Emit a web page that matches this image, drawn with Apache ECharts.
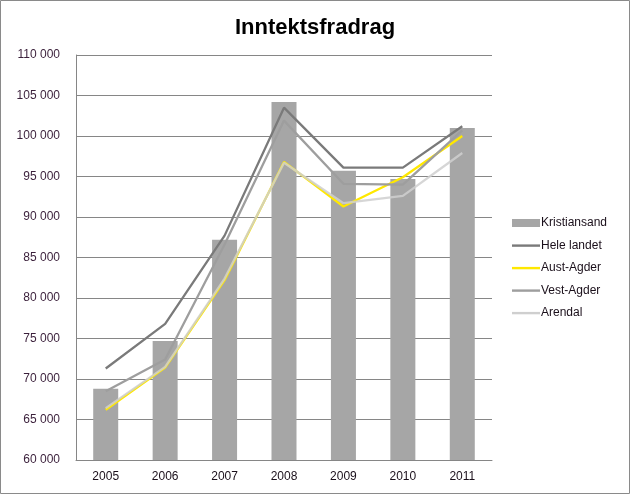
<!DOCTYPE html>
<html><head><meta charset="utf-8">
<script src="https://cdn.jsdelivr.net/npm/echarts@6/dist/echarts.min.js"></script>
<style>html,body{margin:0;padding:0;background:#fff}#c{width:630px;height:494px}</style>
</head><body><div id="c"></div>
<script>
const years = ['2005','2006','2007','2008','2009','2010','2011'];
const kristiansand = [68800, 74700, 87200, 104200, 95700, 94700, 101000];
const heleLandet   = [71300, 76800, 87700, 103500, 96100, 96100, 101200];
const austAgder    = [66200, 71400, 82200, 96800, 91300, 94900, 100000];
const vestAgder    = [68500, 72400, 86600, 101900, 94100, 94000, 100700];
const arendal      = [66400, 71500, 82400, 96700, 91700, 92600, 97900];
const yTicks = {min: 60000, max: 110000, interval: 5000};

const font = '"Liberation Sans", Arial, sans-serif';
const chart = echarts.init(document.getElementById('c'), null, {renderer: 'canvas'});
const lineIcon = 'path://M0,0 M28,8 M0,2.9 L28,2.9 L28,5.3 L0,5.3 Z';
const barIcon = 'path://M0,0 L28,0 L28,8 L0,8 Z';
const colors = {k: '#a6a6a6', h: '#7a7a7a', a: '#ffe800', v: '#9e9e9e', r: '#cfcfcf'};
const lineS = (name, data, color, z, opacity) => ({
  name, type: 'line', data, showSymbol: false, symbol: 'none', z,
  lineStyle: {color, width: 2.3, opacity: opacity || 1},
  itemStyle: {color}, emphasis: {disabled: true}
});
chart.setOption({
  animation: false,
  backgroundColor: '#fff',
  title: {text: 'Inntektsfradrag', left: 'center', top: 12,
    textStyle: {fontFamily: font, fontSize: 22, fontWeight: 'bold', color: '#000'}},
  grid: {left: 76, right: 138, top: 55, bottom: 34},
  legend: {
    orient: 'vertical', left: 507, top: 212, itemWidth: 28, itemHeight: 8, itemGap: 10.5,
    textStyle: {fontFamily: font, fontSize: 12, color: '#1a0f1a', padding: [0,0,0,-4]},
    data: [
      {name: 'Kristiansand', icon: barIcon, itemStyle: {color: colors.k}},
      {name: 'Hele landet', icon: lineIcon, itemStyle: {color: colors.h}},
      {name: 'Aust-Agder', icon: lineIcon, itemStyle: {color: colors.a}},
      {name: 'Vest-Agder', icon: lineIcon, itemStyle: {color: colors.v}},
      {name: 'Arendal', icon: lineIcon, itemStyle: {color: colors.r}}
    ]
  },
  xAxis: {
    type: 'category', data: years,
    axisLine: {lineStyle: {color: '#868686', width: 1}},
    axisTick: {show: false},
    axisLabel: {fontFamily: font, fontSize: 12, color: '#1a0f1a', margin: 11}
  },
  yAxis: {
    type: 'value', min: yTicks.min, max: yTicks.max, interval: yTicks.interval,
    axisLine: {show: true, lineStyle: {color: '#868686', width: 1}},
    axisTick: {show: false},
    splitLine: {lineStyle: {color: '#868686', width: 1}},
    axisLabel: {fontFamily: font, fontSize: 12, color: '#3a1f3a', margin: 16,
      formatter: v => String(v).replace(/\B(?=(\d{3})+(?!\d))/g, ' ')}
  },
  series: [
    {name: 'Kristiansand', type: 'bar', data: kristiansand, barWidth: 25,
      itemStyle: {color: colors.k}, emphasis: {disabled: true}, z: 1},
    lineS('Hele landet', heleLandet, colors.h, 5),
    lineS('Aust-Agder', austAgder, colors.a, 3),
    lineS('Vest-Agder', vestAgder, colors.v, 4),
    lineS('Arendal', arendal, colors.r, 4, 0.85)
  ],
  graphic: [{type: 'rect', shape: {x: 0.5, y: 0.5, width: 629, height: 493},
    style: {fill: 'none', stroke: '#8a8a8a', lineWidth: 1}, silent: true}]
});
</script></body></html>
